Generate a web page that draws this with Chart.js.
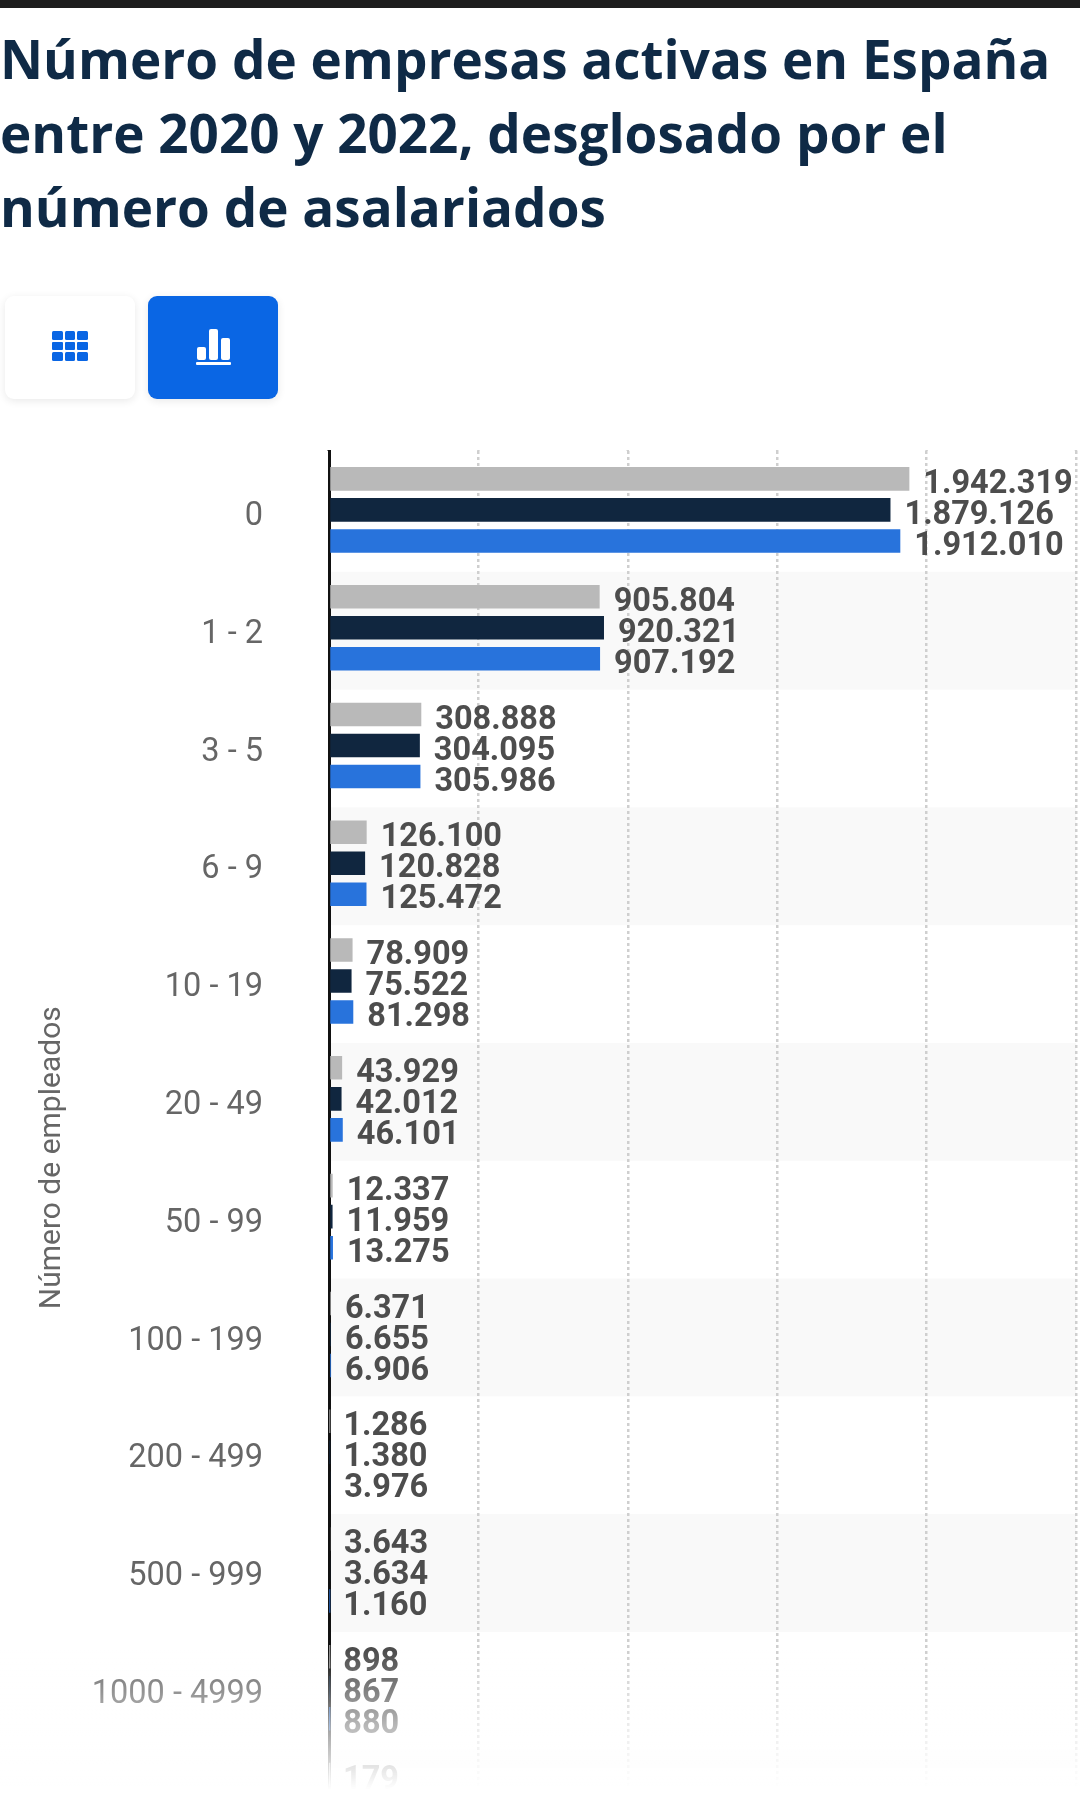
<!DOCTYPE html>
<html lang="es"><head><meta charset="utf-8">
<script src="https://cdn.jsdelivr.net/npm/chart.js@4/dist/chart.umd.min.js"></script>
<style>
html,body{margin:0;padding:0;background:#fff;width:1080px;height:1818px;overflow:hidden}
#topbar{position:absolute;left:0;top:0;width:1080px;height:8px;background:#1e1e1e}
h1{position:absolute;left:0;top:22px;margin:0;width:1080px;font:700 53px/74px "Open Sans",sans-serif;color:#0f2a46;letter-spacing:0}
.btn{position:absolute;top:296px;width:130px;height:103px;border-radius:9px;box-shadow:0 2px 8px rgba(0,0,0,.09)}
#b1{left:5px;background:#fff}#b2{left:148px;background:#0a66e4}
.btn svg{position:absolute;left:0;top:0}
#wrap{position:absolute;left:0;top:0;width:1080px;height:2100px}
canvas{position:absolute;left:0;top:0;display:block}
#fade{position:absolute;left:0;top:1650px;width:1080px;height:168px;background:linear-gradient(to bottom,rgba(255,255,255,0) 0%,rgba(255,255,255,.3) 25%,rgba(255,255,255,.6) 45%,rgba(255,255,255,.86) 70%,#fff 83%)}
</style></head><body>
<div id="wrap"><canvas id="c" width="1080" height="1950"></canvas></div>
<div id="fade"></div>
<div id="topbar"></div>
<h1>Número de empresas activas en España<br>entre 2020 y 2022, desglosado por el<br>número de asalariados</h1>
<div class="btn" id="b1"><svg width="130" height="103" fill="#0a66e4">
<rect x="47" y="35" width="11" height="9" rx="1.5"/><rect x="60" y="35" width="10" height="9" rx="1.5"/><rect x="72" y="35" width="11" height="9" rx="1.5"/>
<rect x="47" y="46" width="11" height="8" rx="1"/><rect x="60" y="46" width="10" height="8" rx="1"/><rect x="72" y="46" width="11" height="8" rx="1"/>
<rect x="47" y="56" width="11" height="9" rx="1.5"/><rect x="60" y="56" width="10" height="9" rx="1.5"/><rect x="72" y="56" width="11" height="9" rx="1.5"/>
</svg></div>
<div class="btn" id="b2"><svg width="130" height="103" fill="#fff">
<rect x="49" y="51" width="9" height="13" rx="2"/><rect x="61" y="33" width="9" height="31" rx="2"/><rect x="73" y="42" width="9" height="22" rx="2"/>
<rect x="48" y="66" width="35" height="3" rx="1"/>
</svg></div>
<script>
const categories = ['0','1 - 2','3 - 5','6 - 9','10 - 19','20 - 49','50 - 99','100 - 199','200 - 499','500 - 999','1000 - 4999','5000 o más'];
const values2022 = [1942319,905804,308888,126100,78909,43929,12337,6371,1286,3643,898,179];
const values2021 = [1879126,920321,304095,120828,75522,42012,11959,6655,1380,3634,867,null];
const values2020 = [1912010,907192,305986,125472,81298,46101,13275,6906,3976,1160,880,null];
const xMax = 2500000, xStep = 500000;
const fmt = v => String(v).replace(/\B(?=(\d{3})+(?!\d))/g,'.');

const bands = {id:'bands',beforeDraw(ch){
  const {ctx,chartArea:a,scales:{y}}=ch;
  const h=y.getPixelForValue(1)-y.getPixelForValue(0);
  ctx.save();ctx.fillStyle='#f9f9f9';
  categories.forEach((_,i)=>{ if(i%2){ctx.fillRect(a.left,y.getPixelForValue(i)-h/2+3,a.right-a.left,h);} });
  ctx.restore();
}};
const stubs = {id:'stubs',beforeDatasetsDraw(ch){
  const {ctx,chartArea:a,scales:{x}}=ch;
  ctx.save();
  ctx.strokeStyle='#cfcfcf';ctx.lineWidth=2.5;ctx.setLineDash([3,3]);
  for(let v=xStep;v<=xMax;v+=xStep){const p=x.getPixelForValue(v);ctx.beginPath();ctx.moveTo(p,a.top-1);ctx.lineTo(p,a.top);ctx.stroke();}
  ctx.setLineDash([]);ctx.strokeStyle='#111';ctx.lineWidth=3;
  const p=x.getPixelForValue(0);ctx.beginPath();ctx.moveTo(p,a.top-1);ctx.lineTo(p,a.top);ctx.stroke();
  ctx.restore();
}};
const labels = {id:'labels',afterDatasetsDraw(ch){
  const {ctx}=ch;
  ctx.save();ctx.font='700 32.5px Roboto';ctx.fillStyle='#4d4d4d';ctx.textAlign='left';ctx.textBaseline='middle';
  ch.data.datasets.forEach((ds,d)=>{
    ch.getDatasetMeta(d).data.forEach((b,i)=>{
      if(ds.data[i]==null)return;
      ctx.fillText(fmt(ds.data[i]),b.x+14,b.y+6);
    });
  });
  ctx.restore();
}};
new Chart(document.getElementById('c'),{
  type:'bar',
  data:{labels:categories,datasets:[
    {label:'2022',data:values2022,backgroundColor:'#b9b9b9'},
    {label:'2021',data:values2021,backgroundColor:'#10263f'},
    {label:'2020',data:values2020,backgroundColor:'#2873dc'}
  ]},
  options:{
    indexAxis:'y',responsive:false,animation:false,devicePixelRatio:1,
    categoryPercentage:0.79,barPercentage:0.76,
    layout:{padding:{top:451,right:4,left:0,bottom:0}},
    plugins:{legend:{display:false},tooltip:{enabled:false},title:{display:false}},
    scales:{
      x:{min:0,max:xMax,ticks:{display:false,stepSize:xStep},
         grid:{color:'#cfcfcf',lineWidth:2.5,drawTicks:false,tickLength:0},
         border:{display:false,dash:[3,3]}},
      y:{ticks:{color:'#666',font:{family:'Roboto',size:32.5},padding:66,autoSkip:false,labelOffset:7},
         grid:{display:false,drawTicks:false,tickLength:0},
         border:{display:true,color:'#111',width:3},
         title:{display:true,text:'Número de empleados',color:'#666',font:{family:'Roboto',size:30},padding:{top:34,bottom:0}},
         afterFit(s){s.width=329;}}
    }
  },
  plugins:[bands,stubs,labels]
});
</script>
</body></html>
